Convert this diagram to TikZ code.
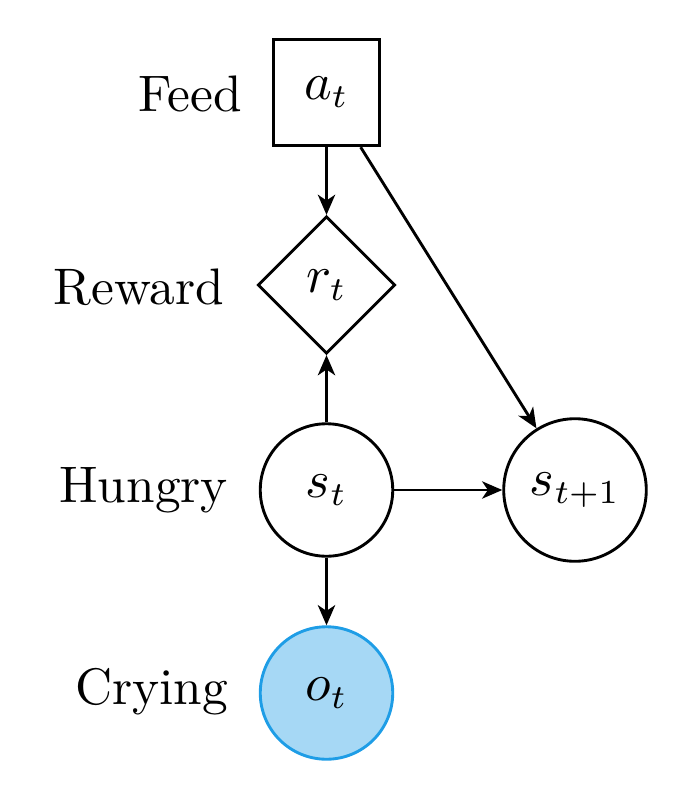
\documentclass[tikz,border=0pt]{standalone}
\usetikzlibrary{shapes.geometric,arrows.meta}
\definecolor{obsfill}{RGB}{166,216,245}
\definecolor{obsdraw}{RGB}{30,157,230}
\begin{document}
\begin{tikzpicture}[x=0.20833pt,y=-0.20833pt,
  every node/.style={font=\fontsize{10.7}{13}\selectfont},
  conn/.style={semithick,-{Stealth[length=4.2pt,width=3.6pt,inset=1.2pt]}},
  actbox/.style={draw,semithick,rectangle,minimum size=22.2pt,inner sep=0pt},
  rewdia/.style={draw,semithick,diamond,minimum size=28.6pt,inner sep=0pt},
  statec/.style={draw,semithick,circle,minimum size=27.6pt,inner sep=0pt},
  obsc/.style={statec,draw=obsdraw,fill=obsfill},
  lbl/.style={anchor=east,inner sep=0pt}]
\useasboundingbox (0,0) rectangle (687,804);
\node[actbox] (a) at (326.5,92.5) {$a_t$};
\node[rewdia] (r) at (326.5,285) {$r_t$};
\node[statec] (s) at (326.5,490) {$s_t$};
\node[statec,minimum size=29.7pt] (s1) at (575,490) {$s_{t+1}$};
\node[obsc] (o) at (326.5,693) {$o_t$};
\node[lbl] (lf) at (243,94) {Feed};
\node[lbl] (lr) at (225,287) {Reward};
\node[lbl] (lh) at (229,490) {Hungry};
\node[lbl] (lc) at (229,692) {Crying};
\draw[conn] (a) -- (r);
\draw[conn] (a) -- (s1);
\draw[conn] (s) -- (r);
\draw[conn] (s) -- (s1);
\draw[conn] (s) -- (o);
\end{tikzpicture}
\end{document}
